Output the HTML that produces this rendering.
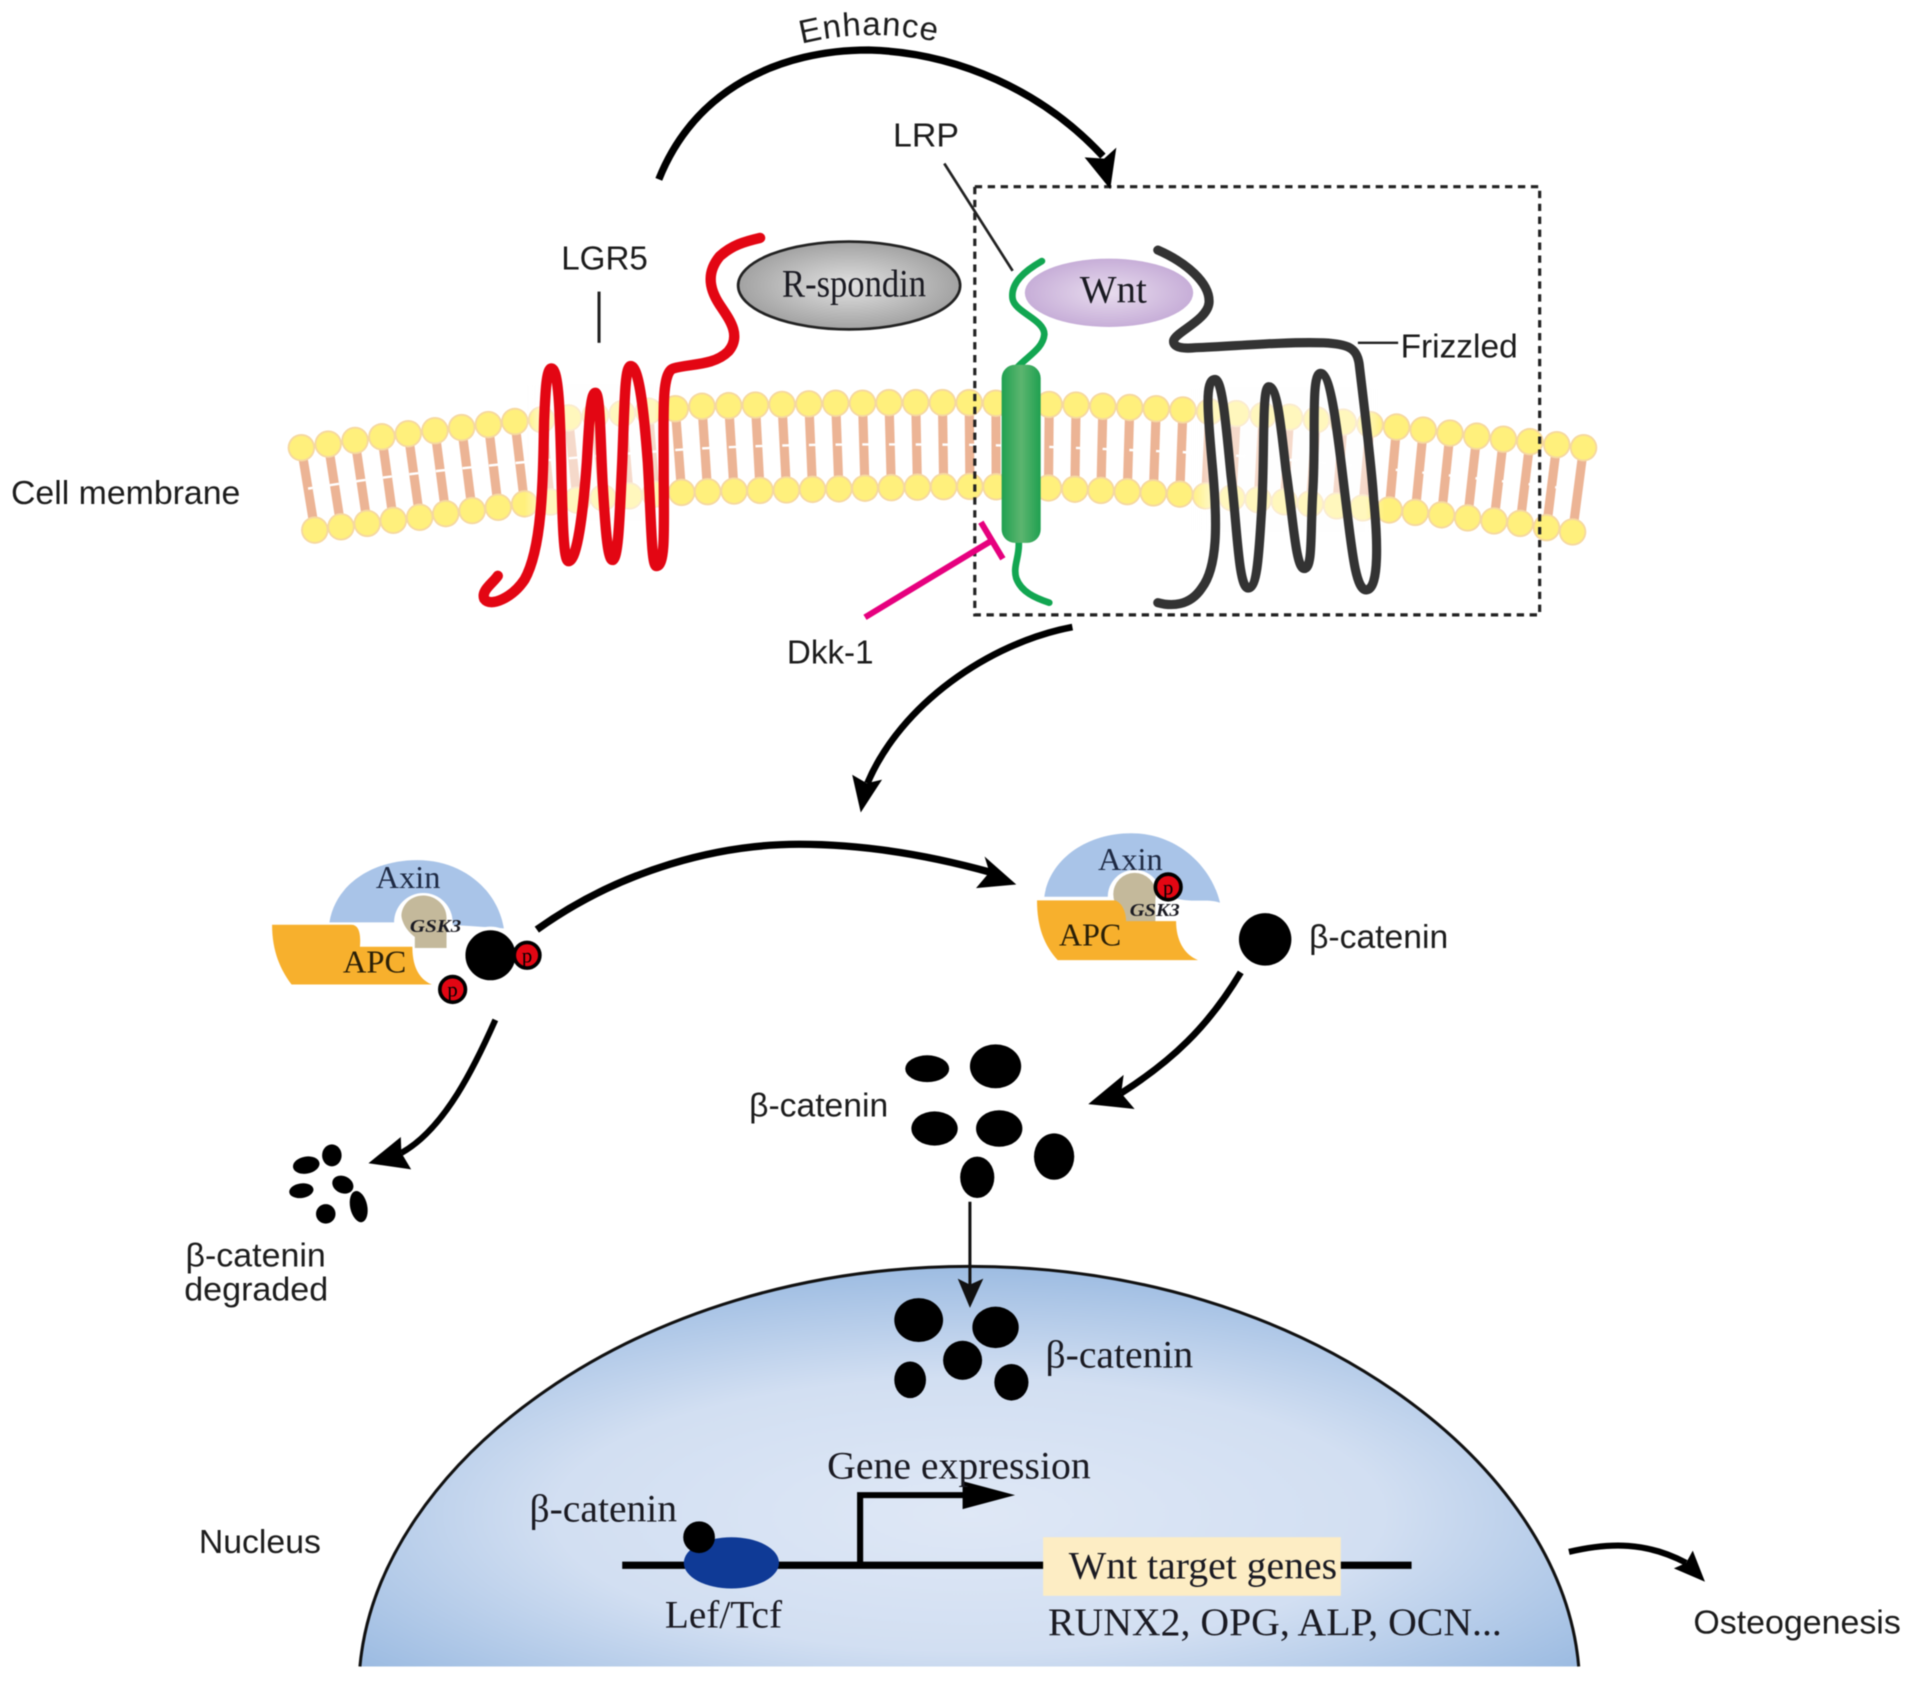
<!DOCTYPE html>
<html><head><meta charset="utf-8"><title>Wnt signaling</title>
<style>
html,body{margin:0;padding:0;background:#fff}
svg{display:block;filter:blur(.6px)}
.s{font-family:"Liberation Sans",sans-serif;fill:#1c1c1c;font-size:27px}
.t{font-family:"Liberation Serif",serif;fill:#1a1a22;font-size:32px}
</style></head><body>
<svg xmlns="http://www.w3.org/2000/svg" width="1913" height="1683" viewBox="0 0 1568 1379.5">
<defs>
<radialGradient id="nuc" cx=".5" cy=".62" r=".62"><stop offset="0" stop-color="#dfe8f6"/><stop offset=".55" stop-color="#d2dff2"/><stop offset="1" stop-color="#9dbce2"/></radialGradient>
<radialGradient id="rs"><stop offset="0" stop-color="#e2e2e2"/><stop offset="1" stop-color="#a2a2a2"/></radialGradient>
<radialGradient id="wn"><stop offset="0" stop-color="#e8dcee"/><stop offset="1" stop-color="#c7aed8"/></radialGradient>
<linearGradient id="cap"><stop offset="0" stop-color="#1fa050"/><stop offset=".5" stop-color="#5cb56f"/><stop offset="1" stop-color="#1fa050"/></linearGradient>
<linearGradient id="f1" x1="0" x2="1" y1="0" y2="0"><stop offset="0" stop-color="#fff" stop-opacity="0"/><stop offset=".1" stop-color="#fff" stop-opacity=".5"/><stop offset=".9" stop-color="#fff" stop-opacity=".5"/><stop offset="1" stop-color="#fff" stop-opacity="0"/></linearGradient>
</defs>

<!-- membrane tails -->
<path fill="none" stroke="#ecb495" stroke-width="7.5" d="M247 367L258 434.5M269 364L279.5 431.8M291 361L301 429M313 358L322.4 426.5M334.6 355.5L344 424M356.5 353L365.4 421M378.4 350.5L387 418.5M400.3 348L408.4 415.8M422 345.5L430 413M444 344L451.3 411.5M466 342.5L473 410M488 340.5L494.3 408M510 339L515.8 406.5M531.6 337L537 405M553.5 335L558.7 403.6M575.4 333L580 403M597.3 332.5L601.7 402.5M619.2 332L623 402M641 331.5L644.6 401.6M663 331L666 401.1M685 330.5L687.6 400.7M707 330.5L709 400.2M728.7 330L730.6 399.7M750.6 330L752 399.3M772.5 330L773.5 398.9M794.4 330L795 398.7M816.3 330.5L816.5 399M838 331L838 399.5M860 331.5L859.4 400M882 332L881 401M904 333L902.4 402M926 334L924 403M947.7 335L945.4 404M969.6 336L967 405M991.5 337.5L988.3 406.5M1013.4 339L1009.8 408M1035.3 340.5L1031.3 409.7M1057 342L1052.8 411.3M1079 344L1074 413M1101 346L1095.7 414.7M1123 348L1117 416.3M1144.7 350L1138.7 418M1166.6 352.5L1160 420M1188.5 355L1181.6 422M1210.4 357.5L1203 424.5M1232.3 360L1224.6 427M1254 362L1246 429M1276 364.5L1267.6 432.5M1298 367L1289 436"/>
<!-- membrane tail gaps -->
<path fill="none" stroke="#fff" stroke-width="2" stroke-dasharray="7.5 14.4" stroke-dashoffset="3.75" d="M252.5 400.5C335 387 425 378 566 368C640 364 710 364 784 364.5C840 365 900 368 968 370.5C1060 376 1160 386 1293.5 401.5"/>
<!-- membrane heads -->
<g fill="none" stroke-linecap="round">
<path id="t" stroke="#f6d8a0" stroke-width="22.5" d="M247 367h0M269 364h0M291 361h0M313 358h0M334.6 355.5h0M356.5 353h0M378.4 350.5h0M400.3 348h0M422 345.5h0M444 344h0M466 342.5h0M488 340.5h0M510 339h0M531.6 337h0M553.5 335h0M575.4 333h0M597.3 332.5h0M619.2 332h0M641 331.5h0M663 331h0M685 330.5h0M707 330.5h0M728.7 330h0M750.6 330h0M772.5 330h0M794.4 330h0M816.3 330.5h0M838 331h0M860 331.5h0M882 332h0M904 333h0M926 334h0M947.7 335h0M969.6 336h0M991.5 337.5h0M1013.4 339h0M1035.3 340.5h0M1057 342h0M1079 344h0M1101 346h0M1123 348h0M1144.7 350h0M1166.6 352.5h0M1188.5 355h0M1210.4 357.5h0M1232.3 360h0M1254 362h0M1276 364.5h0M1298 367h0M258 434.5h0M279.5 431.8h0M301 429h0M322.4 426.5h0M344 424h0M365.4 421h0M387 418.5h0M408.4 415.8h0M430 413h0M451.3 411.5h0M473 410h0M494.3 408h0M515.8 406.5h0M537 405h0M558.7 403.6h0M580 403h0M601.7 402.5h0M623 402h0M644.6 401.6h0M666 401.1h0M687.6 400.7h0M709 400.2h0M730.6 399.7h0M752 399.3h0M773.5 398.9h0M795 398.7h0M816.5 399h0M838 399.5h0M859.4 400h0M881 401h0M902.4 402h0M924 403h0M945.4 404h0M967 405h0M988.3 406.5h0M1009.8 408h0M1031.3 409.7h0M1052.8 411.3h0M1074 413h0M1095.7 414.7h0M1117 416.3h0M1138.7 418h0M1160 420h0M1181.6 422h0M1203 424.5h0M1224.6 427h0M1246 429h0M1267.6 432.5h0M1289 436h0"/>
<path stroke="#fff07c" stroke-width="19.5" d="M247 367h0M269 364h0M291 361h0M313 358h0M334.6 355.5h0M356.5 353h0M378.4 350.5h0M400.3 348h0M422 345.5h0M444 344h0M466 342.5h0M488 340.5h0M510 339h0M531.6 337h0M553.5 335h0M575.4 333h0M597.3 332.5h0M619.2 332h0M641 331.5h0M663 331h0M685 330.5h0M707 330.5h0M728.7 330h0M750.6 330h0M772.5 330h0M794.4 330h0M816.3 330.5h0M838 331h0M860 331.5h0M882 332h0M904 333h0M926 334h0M947.7 335h0M969.6 336h0M991.5 337.5h0M1013.4 339h0M1035.3 340.5h0M1057 342h0M1079 344h0M1101 346h0M1123 348h0M1144.7 350h0M1166.6 352.5h0M1188.5 355h0M1210.4 357.5h0M1232.3 360h0M1254 362h0M1276 364.5h0M1298 367h0M258 434.5h0M279.5 431.8h0M301 429h0M322.4 426.5h0M344 424h0M365.4 421h0M387 418.5h0M408.4 415.8h0M430 413h0M451.3 411.5h0M473 410h0M494.3 408h0M515.8 406.5h0M537 405h0M558.7 403.6h0M580 403h0M601.7 402.5h0M623 402h0M644.6 401.6h0M666 401.1h0M687.6 400.7h0M709 400.2h0M730.6 399.7h0M752 399.3h0M773.5 398.9h0M795 398.7h0M816.5 399h0M838 399.5h0M859.4 400h0M881 401h0M902.4 402h0M924 403h0M945.4 404h0M967 405h0M988.3 406.5h0M1009.8 408h0M1031.3 409.7h0M1052.8 411.3h0M1074 413h0M1095.7 414.7h0M1117 416.3h0M1138.7 418h0M1160 420h0M1181.6 422h0M1203 424.5h0M1224.6 427h0M1246 429h0M1267.6 432.5h0M1289 436h0"/>
</g>
<rect x="430" y="315" width="118" height="112" fill="url(#f1)"/>
<rect x="975" y="318" width="160" height="118" fill="url(#f1)"/>

<!-- LGR5 -->
<path d="M408 472C404 478 394 484 397 491C402 498 420 490 430 475C444 450 445 400 446 345C447 320 448 302 452 302C458 302 459 340 460 379C461 430 462 460 466 460C473 460 478 420 481 379C483 345 484 322 488 322C492 322 492 360 494 397C496 430 498 459 502 459C507 459 508 420 510 379C512 330 512 300 517 300C524 300 528 340 531 379C534 430 534 464 538 464C546 464 544 430 544 380C544 340 542 305 552 302C565 298 585 300 597 288C608 275 598 262 590 250C580 235 580 222 590 210C600 201 610 198 623 195" fill="none" stroke="#e30613" stroke-width="8.5" stroke-linecap="round" stroke-linejoin="round"/>
<line x1="491" y1="239" x2="491" y2="281" stroke="#222" stroke-width="2.5"/>

<!-- R-spondin -->
<ellipse cx="696" cy="234" rx="91" ry="36" fill="url(#rs)" stroke="#222" stroke-width="2.2"/>
<text class="t" x="641" y="243" textLength="118" lengthAdjust="spacingAndGlyphs">R-spondin</text>

<!-- LRP -->
<path d="M854 214C840 222 828 232 830 245C832 256 856 262 856 274C855 286 842 292 834 301" fill="none" stroke="#12a651" stroke-width="5.5" stroke-linecap="round"/>
<path d="M835 444C836 456 830 464 833 474C837 485 848 490 860 494" fill="none" stroke="#12a651" stroke-width="5.5" stroke-linecap="round"/>
<rect x="821" y="299" width="32" height="146" rx="11" fill="url(#cap)"/>
<line x1="774" y1="134" x2="830" y2="222" stroke="#222" stroke-width="2.2"/>

<!-- Wnt -->
<ellipse cx="909" cy="240" rx="69" ry="28" fill="url(#wn)"/>
<text class="t" x="885" y="248" textLength="55" lengthAdjust="spacingAndGlyphs">Wnt</text>

<!-- Frizzled -->
<path d="M949 205C972 215 992 232 991 248C990 262 964 272 962 279C961 285 970 286 980 285C1010 284 1050 280 1085 281C1105 282 1112 285 1114 298C1119 340 1124 380 1126 410C1129 440 1131 483 1120 483.5C1111 484 1108 450 1103 410C1098 370 1092 306 1082.5 306C1074 306 1079 360 1076 404C1074 440 1076 466 1069 466C1062 466 1060 425 1054 385C1050 350 1047 317 1040 317C1034 317 1037 370 1034 420C1032 450 1031 482 1023 482C1015 482 1014 430 1009 390C1005 350 1002 311 996 311C987 311 990 340 994 385C998 430 998 465 985 482C975 497 960 497 949 494" fill="none" stroke="#333" stroke-width="7.5" stroke-linecap="round" stroke-linejoin="round"/>
<line x1="1113" y1="281" x2="1146" y2="281" stroke="#222" stroke-width="2"/>

<!-- dotted box -->
<rect x="799" y="153" width="463" height="351" fill="none" stroke="#222" stroke-width="2.6" stroke-dasharray="6 4.6"/>

<!-- Dkk -->
<g stroke="#e6007e" stroke-width="5" fill="none"><line x1="709" y1="506" x2="813" y2="443"/><line x1="804" y1="428" x2="822" y2="458"/></g>

<!-- Enhance arrow -->
<path d="M540 147C570 72 640 41 712 41C785 43 855 75 904 128" fill="none" stroke="#000" stroke-width="6"/>
<polygon points="910,155 889,129 905,130 915,121" fill="#000"/>
<!-- down arrow -->
<path d="M879 514C810 527 738 578 711 642" fill="none" stroke="#000" stroke-width="5.5"/>
<polygon points="705.5,666 698.5,635 710.5,642 723,639" fill="#000"/>
<!-- Left to right complex arrow -->
<path d="M440 762C510 712 590 692 655 692C710 692 765 702 812 715" fill="none" stroke="#000" stroke-width="6"/>
<polygon points="833,725 807,702 811,715 800,728" fill="#000"/>
<!-- right complex to cluster -->
<path d="M1017 797C990 842 960 870 919 896" fill="none" stroke="#000" stroke-width="5.5"/>
<polygon points="892,905 921,881 919,896 930,909" fill="#000"/>
<!-- left complex to degraded -->
<path d="M406 836C390 872 365 925 329 945" fill="none" stroke="#000" stroke-width="5"/>
<polygon points="302,953.5 328.5,932 329,945 337,958.5" fill="#000"/>

<!-- left complex -->
<path d="M270 756C275 725 305 705 342 705C380 705 408 730 413 761L385 759L333 756Z" fill="#a9c4e8"/>
<circle cx="347" cy="756" r="24" fill="#fff"/>
<path d="M340 777L340 768C332 762 329 754 329 750C330 740 338 734 347 734C357 734 366 742 366 752L366 777Z" fill="#c4b99b"/>
<path d="M223 758L288 758C294 758 296 765 295 776L338 776C338 790 342 802 354 807L239 807C230 795 223 780 223 758Z" fill="#f7b02d"/>
<text class="t" x="308" y="728" textLength="53" lengthAdjust="spacingAndGlyphs" style="font-size:26px;fill:#1e2a44">Axin</text>
<text class="t" x="281" y="797" textLength="52" lengthAdjust="spacingAndGlyphs" style="font-size:26px;fill:#2a2008">APC</text>
<text class="t" x="336" y="764" textLength="42" lengthAdjust="spacingAndGlyphs" style="font-size:15px;font-style:italic;font-weight:bold">GSK3</text>
<circle cx="402" cy="783" r="22" fill="#000" stroke="#fff" stroke-width="3"/>
<circle cx="432" cy="783" r="10.5" fill="#e30613" stroke="#000" stroke-width="3"/>
<circle cx="371" cy="811" r="10.5" fill="#e30613" stroke="#000" stroke-width="3"/>
<text class="t" x="432" y="789" text-anchor="middle" style="font-size:17px;fill:#000">p</text>
<text class="t" x="371" y="817" text-anchor="middle" style="font-size:17px;fill:#000">p</text>

<!-- right complex -->
<path d="M856 735C860 705 890 683 927 683C965 683 993 710 1000 740C990 736 975 741 960 735Z" fill="#a9c4e8"/>
<circle cx="930" cy="735" r="22" fill="#fff"/>
<circle cx="930" cy="733" r="17.5" fill="#c4b99b"/>
<rect x="917" y="733" width="30" height="24" fill="#c4b99b"/>
<path d="M850 738L914 738C920 740 923 748 923 755L964 755C964 770 970 782 982 787L867 787C856 775 850 760 850 738Z" fill="#f7b02d"/>
<text class="t" x="900" y="713" textLength="53" lengthAdjust="spacingAndGlyphs" style="font-size:26px;fill:#1e2a44">Axin</text>
<text class="t" x="868" y="775" textLength="51" lengthAdjust="spacingAndGlyphs" style="font-size:26px;fill:#2a2008">APC</text>
<text class="t" x="926" y="751" textLength="41" lengthAdjust="spacingAndGlyphs" style="font-size:15px;font-style:italic;font-weight:bold">GSK3</text>
<circle cx="957.5" cy="727" r="10.5" fill="#e30613" stroke="#000" stroke-width="3"/>
<text class="t" x="957.5" y="733" text-anchor="middle" style="font-size:17px;fill:#000">p</text>
<circle cx="1037" cy="770" r="21.5" fill="#000"/>

<!-- degraded fragments -->
<g fill="#000">
<ellipse cx="251" cy="955" rx="11" ry="7" transform="rotate(-10 251 955)"/>
<ellipse cx="272" cy="947" rx="8" ry="9"/>
<ellipse cx="281" cy="971" rx="9" ry="7" transform="rotate(25 281 971)"/>
<ellipse cx="294" cy="989" rx="7" ry="13" transform="rotate(-12 294 989)"/>
<ellipse cx="267" cy="995" rx="8" ry="8"/>
<ellipse cx="247" cy="976" rx="10" ry="6" transform="rotate(-8 247 976)"/>
<ellipse cx="760" cy="876" rx="18" ry="11"/>
<ellipse cx="816" cy="874" rx="21" ry="18"/>
<ellipse cx="766" cy="925" rx="19" ry="14"/>
<ellipse cx="819" cy="925" rx="19" ry="15"/>
<ellipse cx="864" cy="948" rx="16.5" ry="19"/>
<ellipse cx="801" cy="965" rx="14" ry="17"/>
</g>

<!-- nucleus -->
<path d="M295 1366C310 1200 520 1038 795 1038C1070 1038 1280 1200 1294 1366Z" fill="url(#nuc)"/>
<path d="M295 1366C310 1200 520 1038 795 1038C1070 1038 1280 1200 1294 1366" fill="none" stroke="#111" stroke-width="2.5"/>
<!-- thin arrow -->
<line x1="795" y1="985" x2="795" y2="1055" stroke="#111" stroke-width="2.5"/>
<polygon points="795,1072 785,1048 795,1053 806,1048" fill="#111"/>
<g fill="#000">
<ellipse cx="753" cy="1082" rx="20" ry="18"/>
<ellipse cx="816" cy="1088" rx="19" ry="17"/>
<circle cx="789" cy="1115" r="16"/>
<ellipse cx="746" cy="1131" rx="13" ry="15"/>
<ellipse cx="829" cy="1133" rx="14" ry="15"/>
</g>
<line x1="510" y1="1283" x2="1157" y2="1283" stroke="#000" stroke-width="6"/>
<rect x="855" y="1260" width="244" height="48" fill="#fdedc4"/>
<ellipse cx="599.5" cy="1281" rx="39" ry="21" fill="#0f3a96"/>
<circle cx="573" cy="1260" r="13" fill="#000"/>
<path d="M705 1283V1225.5H790" fill="none" stroke="#000" stroke-width="5"/>
<polygon points="789,1214 789,1237 832,1225.5" fill="#000"/>

<!-- labels -->
<path id="eh" d="M657 36Q712 22 772 35" fill="none"/>
<text class="s" style="letter-spacing:.8px"><textPath href="#eh">Enhance</textPath></text>
<text class="s" x="732" y="120" textLength="54" lengthAdjust="spacingAndGlyphs">LRP</text>
<text class="s" x="460" y="221" textLength="71" lengthAdjust="spacingAndGlyphs">LGR5</text>
<text class="s" x="1148" y="293" textLength="96" lengthAdjust="spacingAndGlyphs">Frizzled</text>
<text class="s" x="9" y="413" textLength="188" lengthAdjust="spacingAndGlyphs">Cell membrane</text>
<text class="s" x="645" y="544" textLength="71" lengthAdjust="spacingAndGlyphs">Dkk-1</text>
<text class="s" x="1073" y="777" textLength="114" lengthAdjust="spacingAndGlyphs">β-catenin</text>
<text class="s" x="614" y="915" textLength="114" lengthAdjust="spacingAndGlyphs">β-catenin</text>
<text class="s" x="152" y="1038" textLength="115" lengthAdjust="spacingAndGlyphs">β-catenin</text>
<text class="s" x="151" y="1066" textLength="118" lengthAdjust="spacingAndGlyphs">degraded</text>
<text class="s" x="163" y="1273" textLength="100" lengthAdjust="spacingAndGlyphs">Nucleus</text>
<text class="s" x="1388" y="1339" textLength="170" lengthAdjust="spacingAndGlyphs">Osteogenesis</text>
<text class="t" x="857" y="1121" textLength="121" lengthAdjust="spacingAndGlyphs">β-catenin</text>
<text class="t" x="434" y="1247" textLength="121" lengthAdjust="spacingAndGlyphs">β-catenin</text>
<text class="t" x="678" y="1212" textLength="216" lengthAdjust="spacingAndGlyphs">Gene expression</text>
<text class="t" x="876" y="1294" textLength="220" lengthAdjust="spacingAndGlyphs">Wnt target genes</text>
<text class="t" x="545" y="1334" textLength="96" lengthAdjust="spacingAndGlyphs">Lef/Tcf</text>
<text class="t" x="859" y="1340" textLength="372" lengthAdjust="spacingAndGlyphs">RUNX2, OPG, ALP, OCN...</text>

<!-- osteogenesis arrow -->
<path d="M1286 1272C1320 1264 1350 1264 1382 1281" fill="none" stroke="#000" stroke-width="5"/>
<polygon points="1397.5,1296.5 1387.5,1271 1382,1281 1372,1285.5" fill="#000"/>
</svg>
</body></html>
